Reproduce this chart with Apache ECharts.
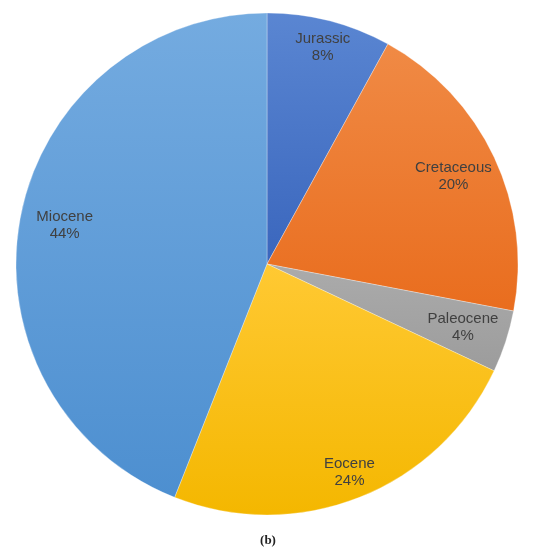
<!DOCTYPE html>
<html>
<head>
<meta charset="utf-8">
<script src="https://cdn.jsdelivr.net/npm/echarts@6/dist/echarts.min.js"></script>
<style>
  html, body { margin: 0; padding: 0; background: #fff; }
  #chart { width: 536px; height: 550px; }
</style>
</head>
<body>
<div id="chart"></div>
<script>
// epochs, clockwise from 12 o'clock
const epochs = ['Jurassic', 'Cretaceous', 'Paleocene', 'Eocene', 'Miocene'];
const shares = [8, 20, 4, 24, 44];
const topColors = ['#5a86d2', '#f08a45', '#ababab', '#ffc933', '#74abe0'];
const bottomColors = ['#3a66bd', '#e96d1e', '#9c9c9c', '#f4b700', '#4d8fd0'];
// which labels sit on the outer ring (others sit a bit further in)
const outerLabels = ['Jurassic', 'Eocene'];

const grad = (a, b) => ({
  type: 'linear', x: 0, y: 0, x2: 0, y2: 1,
  colorStops: [{ offset: 0, color: a }, { offset: 1, color: b }]
});

const sliceData = epochs.map((name, i) => ({
  name: name,
  value: shares[i],
  itemStyle: { color: grad(topColors[i], bottomColors[i]) }
}));

const labelStyle = {
  show: true,
  position: 'inside',
  formatter: '{b}\n{c}%',
  fontFamily: 'Liberation Sans',
  fontSize: 15,
  lineHeight: 17,
  color: '#404040'
};

const ringData = (outer) => epochs.map((name, i) => ({
  name: name,
  value: shares[i],
  label: { show: outerLabels.includes(name) === outer }
}));

const labelRing = (radius, outer) => ({
  // transparent ring used only to place the labels
  type: 'pie',
  center: [267, 264],
  radius: radius,
  startAngle: 90,
  clockwise: true,
  silent: true,
  data: ringData(outer),
  itemStyle: { color: 'rgba(0,0,0,0)' },
  label: labelStyle,
  labelLine: { show: false }
});

const chart = echarts.init(document.getElementById('chart'));
chart.setOption({
  animation: false,
  title: {
    text: '(b)',
    left: 'center',
    top: 529,
    textStyle: {
      fontFamily: 'Liberation Serif',
      fontWeight: 'bold',
      fontSize: 13,
      color: '#222'
    }
  },
  series: [
    {
      type: 'pie',
      center: [267, 264],
      radius: [0, 251],
      startAngle: 90,
      clockwise: true,
      silent: true,
      data: sliceData,
      itemStyle: { borderColor: 'rgba(255,255,255,0.5)', borderWidth: 0.6 },
      label: { show: false },
      labelLine: { show: false }
    },
    labelRing([190, 252], true),
    labelRing([154, 252], false)
  ]
});
</script>
</body>
</html>
